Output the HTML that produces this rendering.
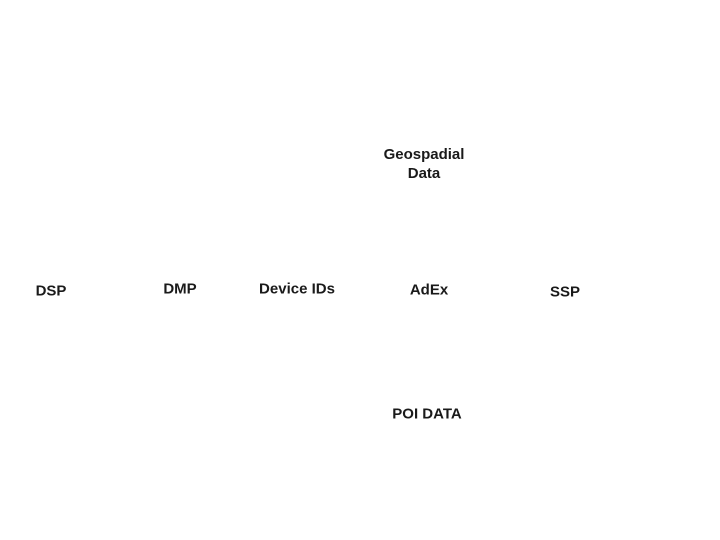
<!DOCTYPE html>
<html><head><style>
body{margin:0;width:720px;height:540px;background:#fff;position:relative;overflow:hidden;font-family:"Liberation Sans",Arial,sans-serif;font-weight:bold;font-size:15px;color:#1a1a1a}
.t{position:absolute;transform:translate(-50%,-50%);white-space:nowrap;text-align:center;line-height:19px}
</style></head><body>
<div class="t" style="left:424px;top:164px">Geospadial<br>Data</div>
<div class="t" style="left:51px;top:291px">DSP</div>
<div class="t" style="left:180px;top:289px">DMP</div>
<div class="t" style="left:297px;top:289px">Device IDs</div>
<div class="t" style="left:429px;top:290px">AdEx</div>
<div class="t" style="left:565px;top:292px">SSP</div>
<div class="t" style="left:427px;top:414px">POI DATA</div>
</body></html>
